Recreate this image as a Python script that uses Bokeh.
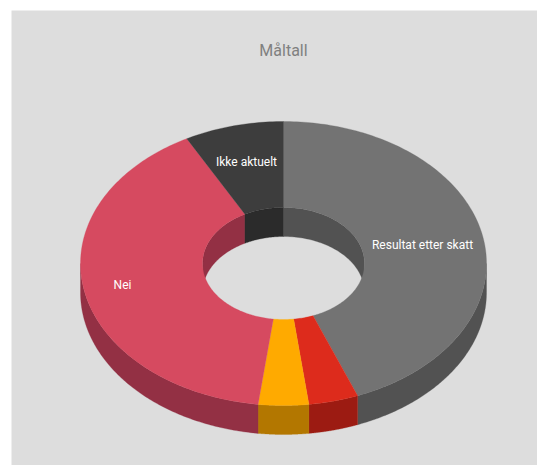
import numpy as np
from bokeh.plotting import figure
from bokeh.models import Range1d
from bokeh.embed import file_html
from bokeh.resources import INLINE
from bokeh.core.properties import value

categories = ["Resultat etter skatt", "Rød", "Gul", "Nei", "Ikke aktuelt"]
values = [44.05, 3.95, 4.0, 40.1, 7.9]
top_colors = ["#737373", "#dd2b1c", "#ffaa00", "#d64a60", "#3d3d3d"]
side_colors = ["#525252", "#9c1b12", "#b37700", "#933044", "#2b2b2b"]
label_names = ["Resultat etter skatt", "Nei", "Ikke aktuelt"]
label_x = [422, 122, 246]
label_y = [244, 284, 161]

W, H = 526, 455
LEFT, TOP = 11, 10
CX, CY, RX, RY, IRX, IRY, DEPTH = 283, 263, 203, 142, 81, 56, 29


def ell(a, rx, ry, dy=0):
    return CX + rx * np.sin(a), CY - ry * np.cos(a) + dy


p = figure(width=W, height=H, output_backend="svg", toolbar_location=None,
           x_range=Range1d(LEFT, LEFT + W), y_range=Range1d(TOP + H, TOP),
           min_border=0, margin=(10, 0, 0, 11),
           background_fill_color="#dddddd", border_fill_color="#dddddd", outline_line_color=None)
p.axis.visible = False
p.grid.visible = False

edges = np.concatenate([[0], np.cumsum(values)]) / np.sum(values) * 2 * np.pi
spans = list(zip(edges[:-1], edges[1:]))


def clip(a0, a1, lo, hi):
    s, e = max(a0, lo), min(a1, hi)
    return (s, e) if e > s else None


# inner wall: the far half of the hole
for (a0, a1), c in zip(spans, side_colors):
    for lo, hi in [(0, np.pi / 2), (1.5 * np.pi, 2 * np.pi)]:
        r = clip(a0, a1, lo, hi)
        if r:
            t = np.linspace(r[0], r[1], 60)
            x1, y1 = ell(t, IRX, IRY)
            x2, y2 = ell(t[::-1], IRX, IRY, DEPTH)
            p.patch(np.r_[x1, x2], np.r_[y1, y2], fill_color=c, line_color=c, line_width=0.3)

# outer wall: the near half
for (a0, a1), c in zip(spans, side_colors):
    r = clip(a0, a1, np.pi / 2, 1.5 * np.pi)
    if r:
        t = np.linspace(r[0], r[1], 120)
        x1, y1 = ell(t, RX, RY)
        x2, y2 = ell(t[::-1], RX, RY, DEPTH)
        p.patch(np.r_[x1, x2], np.r_[y1, y2], fill_color=c, line_color=c, line_width=0.3)

# top face
for (a0, a1), c in zip(spans, top_colors):
    n = max(int((a1 - a0) * 60), 12)
    t = np.linspace(a0, a1, n)
    x1, y1 = ell(t, RX, RY)
    x2, y2 = ell(t[::-1], IRX, IRY)
    p.patch(np.r_[x1, x2], np.r_[y1, y2], fill_color=c, line_color=c, line_width=0.3)

p.text(label_x, label_y, text=label_names, text_color="#ffffff", text_font=value("Roboto"),
       text_font_size="12px", text_align="center", text_baseline="middle")
p.text([CX], [50], text=["Måltall"], text_color="#808080", text_font=value("Roboto"),
       text_font_size="16px", text_align="center", text_baseline="middle")

open("out.html", "w").write(file_html(p, INLINE))
